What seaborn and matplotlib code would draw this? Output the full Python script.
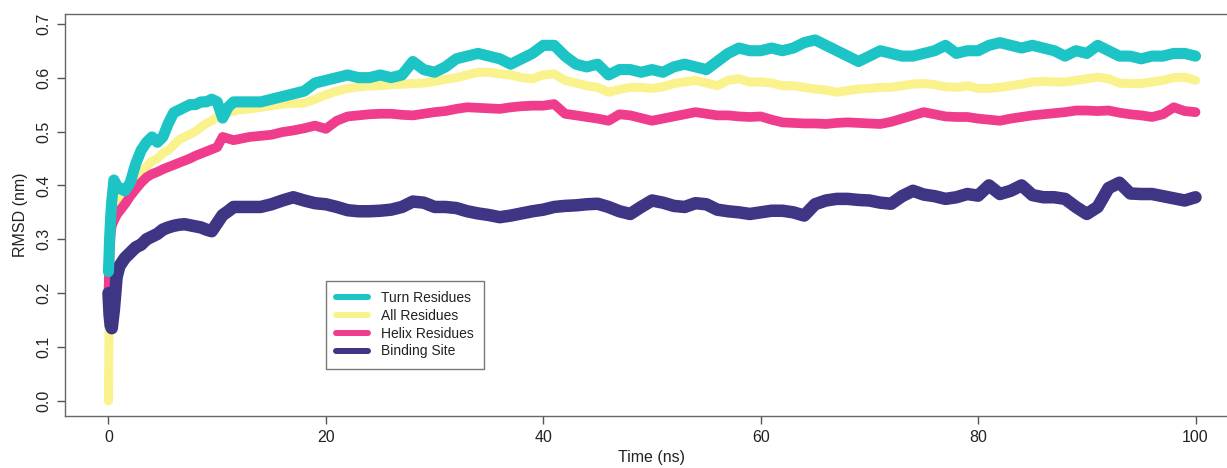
import matplotlib
matplotlib.use("Agg")
import matplotlib.pyplot as plt
import seaborn as sns
import pandas as pd
from matplotlib.lines import Line2D

# ---- data ----
time_early = [0, 0.1, 0.2, 0.3, 0.5, 0.75, 1, 1.5, 2, 2.5, 3, 3.5, 4, 4.5, 5, 5.5,
              6, 6.5, 7, 7.5, 8, 8.5, 9, 9.5, 10, 10.5, 11, 11.5, 12]
time_ns = time_early + list(range(13, 101))

turn_residues = [
    0.24, 0.30, 0.34, 0.37, 0.41, 0.40, 0.395, 0.39, 0.405, 0.44, 0.465, 0.48, 0.49, 0.48, 0.49,
    0.515, 0.535, 0.54, 0.545, 0.55, 0.55, 0.555, 0.555, 0.56, 0.555, 0.525, 0.545, 0.555, 0.555,
    0.555, 0.555, 0.56, 0.565, 0.57, 0.575, 0.59, 0.595, 0.60, 0.605,
    0.60, 0.60, 0.605, 0.60, 0.605, 0.63, 0.615, 0.61, 0.62, 0.635,
    0.64, 0.645, 0.64, 0.635, 0.625, 0.635, 0.645, 0.66, 0.66, 0.64,
    0.625, 0.62, 0.625, 0.605, 0.615, 0.615, 0.61, 0.615, 0.61, 0.62,
    0.625, 0.62, 0.615, 0.63, 0.645, 0.655, 0.65, 0.65, 0.655, 0.65,
    0.655, 0.665, 0.67, 0.66, 0.65, 0.64, 0.63, 0.64, 0.65, 0.645,
    0.64, 0.64, 0.645, 0.65, 0.66, 0.645, 0.65, 0.65, 0.66, 0.665,
    0.66, 0.655, 0.66, 0.655, 0.65, 0.64, 0.65, 0.645, 0.66, 0.65,
    0.64, 0.64, 0.635, 0.64, 0.64, 0.645, 0.645, 0.64]

all_residues = [
    0.0, 0.27, 0.31, 0.33, 0.355, 0.37, 0.375, 0.39, 0.405, 0.415, 0.425, 0.435, 0.445, 0.45, 0.46,
    0.465, 0.475, 0.485, 0.49, 0.495, 0.50, 0.508, 0.515, 0.52, 0.527, 0.53, 0.535, 0.538, 0.54,
    0.542, 0.545, 0.548, 0.551, 0.552, 0.553, 0.56, 0.568, 0.575, 0.58,
    0.583, 0.585, 0.585, 0.587, 0.588, 0.589, 0.59, 0.593, 0.597, 0.60,
    0.605, 0.61, 0.61, 0.607, 0.605, 0.60, 0.598, 0.605, 0.607, 0.595,
    0.59, 0.585, 0.582, 0.573, 0.578, 0.582, 0.582, 0.58, 0.583, 0.589,
    0.592, 0.595, 0.59, 0.585, 0.595, 0.598, 0.592, 0.592, 0.59, 0.585,
    0.585, 0.582, 0.579, 0.577, 0.573, 0.576, 0.579, 0.58, 0.582, 0.582,
    0.585, 0.588, 0.589, 0.587, 0.583, 0.582, 0.585, 0.58, 0.58, 0.582,
    0.585, 0.588, 0.592, 0.593, 0.592, 0.592, 0.595, 0.598, 0.601, 0.598,
    0.59, 0.589, 0.589, 0.592, 0.595, 0.60, 0.601, 0.595]

helix_residues = [
    0.20, 0.27, 0.31, 0.325, 0.335, 0.345, 0.352, 0.365, 0.38, 0.393, 0.405, 0.415, 0.421, 0.425, 0.43,
    0.434, 0.438, 0.442, 0.446, 0.45, 0.455, 0.459, 0.463, 0.467, 0.471, 0.49, 0.487, 0.484, 0.486,
    0.49, 0.492, 0.494, 0.499, 0.502, 0.506, 0.511, 0.505, 0.52, 0.528,
    0.53, 0.532, 0.533, 0.533, 0.531, 0.53, 0.533, 0.536, 0.538, 0.542,
    0.545, 0.544, 0.543, 0.542, 0.545, 0.547, 0.548, 0.548, 0.551, 0.533,
    0.53, 0.527, 0.524, 0.52, 0.532, 0.53, 0.525, 0.52, 0.524, 0.528,
    0.532, 0.536, 0.533, 0.53, 0.53, 0.528, 0.527, 0.528, 0.522, 0.517,
    0.516, 0.515, 0.515, 0.514, 0.516, 0.517, 0.516, 0.515, 0.514, 0.518,
    0.524, 0.53, 0.536, 0.532, 0.528, 0.527, 0.527, 0.524, 0.522, 0.52,
    0.524, 0.527, 0.53, 0.532, 0.534, 0.536, 0.539, 0.539, 0.538, 0.539,
    0.535, 0.532, 0.53, 0.527, 0.532, 0.545, 0.538, 0.536]

binding_site = [
    0.20, 0.16, 0.14, 0.135, 0.17, 0.23, 0.25, 0.265, 0.275, 0.285, 0.29, 0.30, 0.305, 0.31, 0.318,
    0.322, 0.325, 0.327, 0.328, 0.326, 0.324, 0.322, 0.318, 0.315, 0.33, 0.345, 0.352, 0.36, 0.36,
    0.36, 0.36, 0.365, 0.372, 0.378, 0.372, 0.367, 0.365, 0.36, 0.354,
    0.352, 0.352, 0.353, 0.355, 0.36, 0.37, 0.368, 0.36, 0.36, 0.358,
    0.352, 0.348, 0.345, 0.341, 0.344, 0.348, 0.352, 0.355, 0.36, 0.362,
    0.363, 0.365, 0.366, 0.36, 0.352, 0.347, 0.36, 0.372, 0.368, 0.362,
    0.36, 0.367, 0.365, 0.355, 0.352, 0.35, 0.347, 0.35, 0.353, 0.353,
    0.35, 0.344, 0.365, 0.372, 0.375, 0.375, 0.373, 0.372, 0.368, 0.366,
    0.38, 0.39, 0.383, 0.38, 0.375, 0.378, 0.384, 0.381, 0.40, 0.384,
    0.39, 0.40, 0.382, 0.378, 0.378, 0.375, 0.36, 0.347, 0.36, 0.395,
    0.405, 0.385, 0.384, 0.384, 0.38, 0.376, 0.372, 0.378]

legend_labels = ["Turn Residues", "All Residues", "Helix Residues", "Binding Site"]
x_ticks = [0, 20, 40, 60, 80, 100]
y_ticks = [0.0, 0.1, 0.2, 0.3, 0.4, 0.5, 0.6, 0.7]

colors = {"Turn Residues": "#1CC4C6", "All Residues": "#FAF28C",
          "Helix Residues": "#EF3C8C", "Binding Site": "#3F3585"}
widths = {"Turn Residues": 8.0, "All Residues": 6.5,
          "Helix Residues": 7.0, "Binding Site": 9.0}

df = pd.DataFrame({
    "time": time_ns * 4,
    "rmsd": turn_residues + all_residues + helix_residues + binding_site,
    "series": sum([[lab] * len(time_ns) for lab in legend_labels], []),
})

sns.set_style("white")
plt.rcParams["font.family"] = ["Liberation Sans", "DejaVu Sans"]

fig = plt.figure(figsize=(12.27, 4.68), dpi=100)
ax = fig.add_axes([65 / 1227, 52 / 468, (1239 - 65) / 1227, (416 - 14.3) / 468])

draw_order = ["All Residues", "Helix Residues", "Binding Site", "Turn Residues"]
for lab in draw_order:
    sub = df[df["series"] == lab]
    sns.lineplot(data=sub, x="time", y="rmsd", ax=ax, color=colors[lab],
                 linewidth=widths[lab], solid_joinstyle="round", legend=False,
                 estimator=None, sort=False)

ax.set_xlim(-4, 104)
ax.set_ylim(-0.028, 0.7176)
ax.set_xticks(x_ticks)
ax.set_xticklabels([str(v) for v in x_ticks])
ax.set_yticks(y_ticks)
ax.set_yticklabels([f"{v:.1f}" for v in y_ticks], rotation=90, va="center")
ax.tick_params(axis="both", direction="out", length=6, width=1, color="#555555",
               labelsize=11.5, labelcolor="#222222", pad=4, left=True, bottom=True)
ax.set_xlabel("Time (ns)", fontsize=11.5, color="#222222", labelpad=4)
ax.set_ylabel("RMSD (nm)", fontsize=11.5, color="#222222", labelpad=6)
for s in ax.spines.values():
    s.set_color("#666666")
    s.set_linewidth(1.0)
ax.grid(False)

handles = [Line2D([0], [0], color=colors[l], lw=4.3, solid_capstyle="round") for l in legend_labels]
leg = ax.legend(handles, legend_labels, loc="upper left",
                bbox_to_anchor=((326 - 65) / (1239 - 65), (416 - 280.7) / (416 - 14.3)),
                borderaxespad=0, frameon=True, fancybox=False, edgecolor="#555555",
                fontsize=10, handlelength=2.3, handletextpad=0.9, labelspacing=0.27,
                borderpad=0.75)
leg.get_frame().set_linewidth(1.0)
for t in leg.get_texts():
    t.set_color("#222222")

fig.savefig("out.png", dpi=100)
